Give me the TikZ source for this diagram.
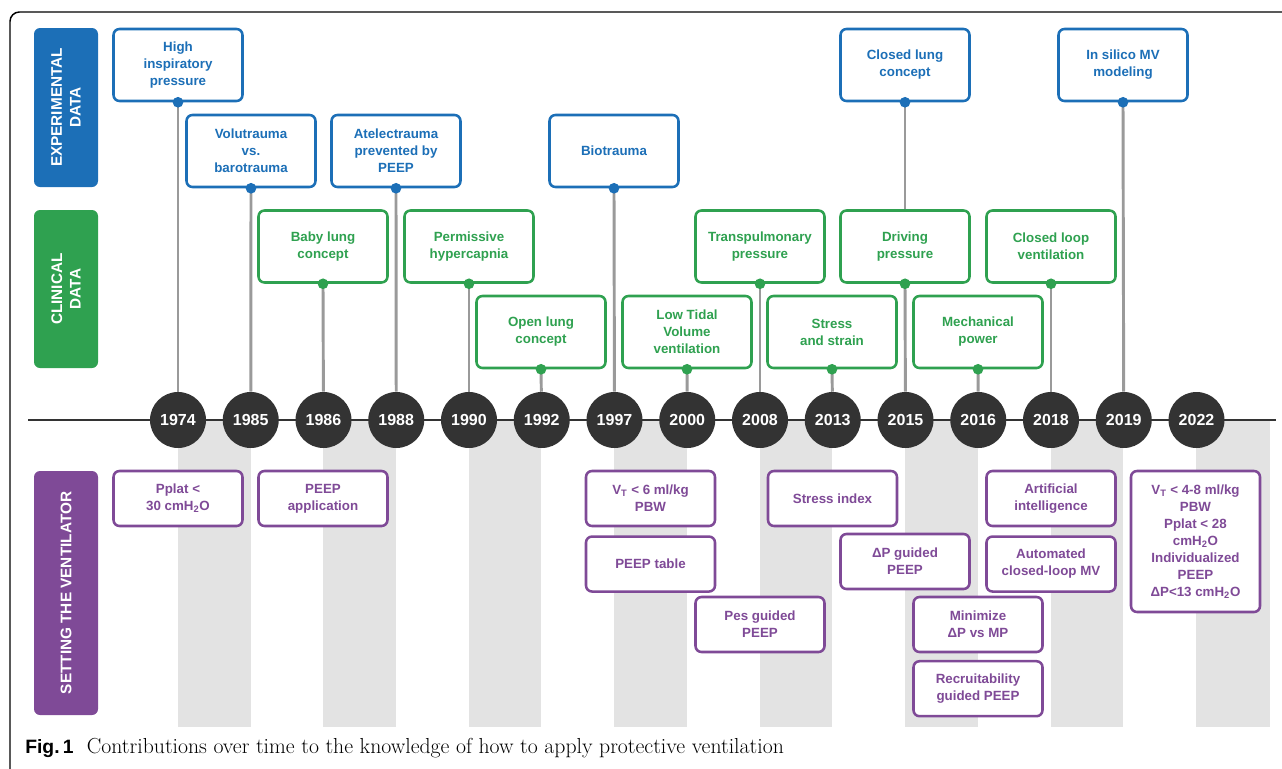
\documentclass[tikz,border=0pt]{standalone}
\usepackage{fontspec}
\setsansfont{Liberation Sans}
\usepackage{tikz}
\usetikzlibrary{positioning}
\definecolor{expBlue}{HTML}{1C6FB7}
\definecolor{clinGreen}{HTML}{2FA150}
\definecolor{ventPurple}{HTML}{7F4A97}
\definecolor{yearGrey}{HTML}{333333}
\definecolor{stemGrey}{HTML}{9A9A9A}
\definecolor{bandGrey}{HTML}{E3E3E3}
\tikzset{
  box/.style   = {draw, fill=white, line width=1.9pt, rounded corners=4.5pt, align=center,
                  minimum width=96.75pt, inner sep=2pt,
                  font=\sffamily\bfseries\fontsize{10}{12.75}\selectfont},
  exp/.style   = {box, draw=expBlue, text=expBlue, minimum height=54pt},
  clin/.style  = {box, draw=clinGreen, text=clinGreen, minimum height=54pt},
  vent/.style  = {box, draw=ventPurple, text=ventPurple, minimum height=41.25pt},
  side/.style  = {rotate=90, rounded corners=4.5pt, text=white, align=center,
                  minimum height=48pt, inner sep=2pt,
                  font=\sffamily\bfseries\fontsize{11.5}{14}\selectfont},
  year/.style  = {circle, fill=yearGrey, text=white, minimum size=42pt, inner sep=0pt,
                  font=\sffamily\bfseries\fontsize{12}{12}\selectfont},
  dot/.style   = {circle, inner sep=0pt, minimum size=8pt},
  stem/.style  = {draw=stemGrey, line width=2.2pt},
  axis/.style  = {draw=yearGrey, line width=2pt}
}
\begin{document}
\begin{tikzpicture}[x=0.75pt, y=-0.75pt]
  \useasboundingbox (0,0) rectangle (1282,768);
  % grey bands below the time axis
  \foreach \xa/\xb in {178/251, 323/396, 469/541, 614/687, 760/832, 905/978, 1051/1123, 1196/1270}
    \fill[bandGrey] (\xa,420) rectangle (\xb,727);
  \draw[line width=1.1pt, rounded corners=7pt] (10,772) -- (10,12) -- (1292,12);

  % row labels
  \node[side, fill=expBlue, minimum width=119.25pt] (lexp) at (66,107.5) {EXPERIMENTAL\\DATA};
  \node[side, fill=clinGreen, minimum width=118.5pt] (lclin) at (66,289) {CLINICAL\\DATA};
  \node[side, fill=ventPurple, minimum width=183pt] (lvent) at (66,593) {SETTING THE VENTILATOR};

  % time axis
  \coordinate (axL) at (28,420);
  \coordinate (axR) at (1276,420);
  \draw[axis] (axL) -- (axR);
  \foreach \yr [count=\i from 0] in {1974,1985,1986,1988,1990,1992,1997,2000,2008,2013,2015,2016,2018,2019,2022}
    \node[year] (y\yr) at ({178+72.75*\i},420) {\yr};

  % experimental data
  \node[exp] (hip) at (178,65) {High\\inspiratory\\pressure};
  \node[exp] (volu) at (251,151) {Volutrauma\\vs.\\barotrauma};
  \node[exp] (atel) at (396,151) {Atelectrauma\\prevented by\\PEEP};
  \node[exp] (bio) at (614,151) {Biotrauma};
  \node[exp] (closedlung) at (905,65) {Closed lung\\concept};
  \node[exp] (insilico) at (1123,65) {In silico MV\\modeling};

  % clinical data
  \node[clin] (baby) at (323,246.5) {Baby lung\\concept};
  \node[clin] (permissive) at (469,246.5) {Permissive\\hypercapnia};
  \node[clin] (openlung) at (541,332) {Open lung\\concept};
  \node[clin] (lowtidal) at (687,332) {Low Tidal\\Volume\\ventilation};
  \node[clin] (transpulm) at (760,246.5) {Transpulmonary\\pressure};
  \node[clin] (stress) at (832,332) {Stress\\and strain};
  \node[clin] (driving) at (905,246.5) {Driving\\pressure};
  \node[clin] (mechpower) at (978,332) {Mechanical\\power};
  \node[clin] (closedloop) at (1051,246.5) {Closed loop\\ventilation};

  % setting the ventilator
  \node[vent] (pplat) at (178,498.5) {Pplat <\\30 cmH\textsubscript{2}O};
  \node[vent] (peepapp) at (323,498.5) {PEEP\\application};
  \node[vent] (vtsix) at (650.5,498.5) {V\textsubscript{T} < 6 ml/kg\\PBW};
  \node[vent, below=6pt of vtsix] (peeptable) {PEEP table};
  \node[vent] (stressidx) at (832.5,498.5) {Stress index};
  \node[vent] (dpguided) at (905,561.5) {ΔP guided\\PEEP};
  \node[vent] (pesguided) at (760,624.5) {Pes guided\\PEEP};
  \node[vent] (ai) at (1051,498.5) {Artificial\\intelligence};
  \node[vent, below=6pt of ai] (autoclosed) {Automated\\closed-loop MV};
  \node[vent] (minimize) at (978,624.5) {Minimize\\ΔP vs MP};
  \node[vent, below=5pt of minimize] (recruit) {Recruitability\\guided PEEP};
  \node[vent, minimum height=105.75pt] (vtrange) at (1195.5,541.5)
    {V\textsubscript{T} < 4-8 ml/kg\\PBW\\Pplat < 28\\cmH\textsubscript{2}O\\Individualized\\PEEP\\ΔP<13 cmH\textsubscript{2}O};

  % stems down to the years
  \foreach \b/\y in {hip/1974, volu/1985, atel/1988, bio/1997, insilico/2019}
    \draw[stem] (\b.south) -- (y\y);
  \draw[stem] (closedlung.south) -- (driving.north);
  \foreach \b/\y in {baby/1986, permissive/1990, openlung/1992, lowtidal/2000, transpulm/2008,
                     stress/2013, driving/2015, mechpower/2016, closedloop/2018}
    \draw[stem] (\b.south) -- (y\y);
  \foreach \b in {hip, volu, atel, bio, closedlung, insilico}
    \node[dot, fill=expBlue] at (\b.south) {};
  \foreach \b in {baby, permissive, openlung, lowtidal, transpulm, stress, driving, mechpower, closedloop}
    \node[dot, fill=clinGreen] at (\b.south) {};

  % caption
  \node[anchor=base west, inner sep=0pt] (cap) at (25,753)
    {{\sffamily\bfseries\fontsize{14.5}{16}\selectfont Fig.\,1}\hspace{10pt}{\fontsize{16.3}{17}\selectfont Contributions over time to the knowledge of how to apply protective ventilation}};
\end{tikzpicture}
\end{document}
